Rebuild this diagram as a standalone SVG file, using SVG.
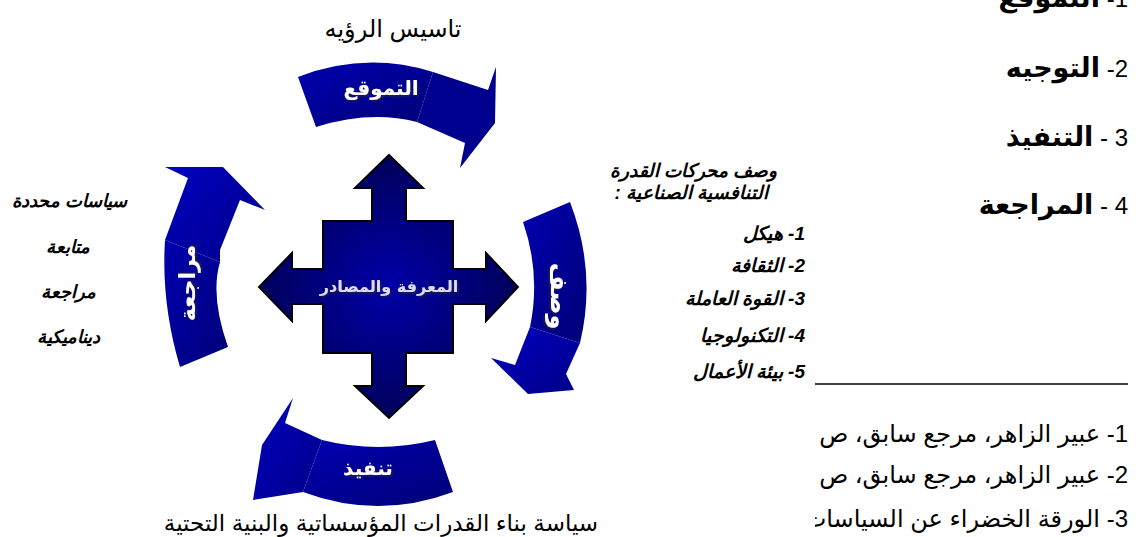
<svg xmlns="http://www.w3.org/2000/svg" width="1136" height="537" viewBox="0 0 1136 537">
<defs>
<linearGradient id="band" x1="0" y1="0" x2="1" y2="1">
<stop offset="0" stop-color="#0000b0"/><stop offset="1" stop-color="#000078"/>
</linearGradient>
<linearGradient id="head" x1="0" y1="0" x2="1" y2="1">
<stop offset="0" stop-color="#0000c0"/><stop offset="1" stop-color="#000088"/>
</linearGradient>
<radialGradient id="cross" cx="0.5" cy="0.5" r="0.6">
<stop offset="0" stop-color="#0000a8"/><stop offset="1" stop-color="#00004a"/>
</radialGradient>
<filter id="sh" x="-20%" y="-30%" width="140%" height="160%">
<feDropShadow dx="1.5" dy="1.5" stdDeviation="0.8" flood-color="#202040" flood-opacity="0.9"/>
</filter>
<clipPath id="fnclip"><rect x="815" y="490" width="321" height="47"/></clipPath>
<style>
.t{font-family:"Liberation Sans","DejaVu Sans",sans-serif;fill:#000}
.lbl{font-family:"DejaVu Sans","Liberation Sans",sans-serif;font-weight:bold;fill:#ffffff;filter:url(#sh)}
.bi{font-weight:bold;font-style:italic;font-size:19px}
.bt{font-weight:bold;font-style:italic;font-size:18.5px}
.bl{font-weight:bold;font-style:italic;font-size:18px}
.big{font-size:27px;font-weight:bold}
.num{font-weight:normal;font-size:24px}
.reg{font-size:24px}
.outline{stroke:#000;stroke-width:2;stroke-linejoin:miter}
</style>
</defs>

<g id="connectors">
<g id="arrow-top">
<path d="M298,77 Q365,51 433,72 L417,122 Q370,110 316,127 Z" fill="url(#band)"/>
<path d="M433,72 L488,90 L496,67 L495,123 L460,168 L465,143 L417,122 Z" fill="#00008e"/>
<text class="lbl" x="381" y="95" font-size="20" text-anchor="middle" direction="rtl">التموقع</text>
</g>
<g id="arrow-right">
<path d="M523,222 L570,202 Q597,272 580,343 L530,327 Q541,274 523,222 Z" fill="url(#band)"/>
<path d="M530,327 L580,343 L566,374 L574,390 L528,394 L491,358 L515,365 Z" fill="url(#head)"/>
<text class="lbl" transform="translate(559,296) rotate(90)" x="0" y="8" font-size="24" text-anchor="middle" direction="rtl">وصف</text>
</g>
<g id="arrow-bottom">
<path d="M435,440 L453,492 Q378,520 303,492 L322,440 Q378,454 435,440 Z" fill="url(#band)"/>
<path d="M322,440 L303,492 L253,500 L262,445 L293,398 L285,423 Z" fill="url(#head)"/>
<text class="lbl" x="368" y="475" font-size="20" text-anchor="middle" direction="rtl">تنفيذ</text>
</g>
<g id="arrow-left">
<path d="M165,240 L188,178 L165,167 L223,167 L265,210 L240,200 L220,250 L220,262 Z" fill="url(#head)"/>
<path d="M165,240 L220,262 Q210,296 228,347 L180,367 Q161,303 165,240 Z" fill="url(#band)"/>
<text class="lbl" transform="translate(187,283) rotate(-90)" x="0" y="8" font-size="22" text-anchor="middle" direction="rtl">مراجعة</text>
</g>
</g>

<g id="center">
<path class="outline" fill="url(#cross)" d="M389,155 L423,188 L406,188 L406,221 L453,221 L453,269 L486,269 L486,253 L518,287 L486,321 L486,304 L453,304 L453,353 L406,353 L406,386 L423,386 L389,418 L355,386 L372,386 L372,353 L323,353 L323,304 L292,304 L292,321 L259,287 L292,253 L292,269 L323,269 L323,221 L372,221 L372,188 L355,188 Z"/>
<text class="lbl" x="389" y="292" font-size="16" text-anchor="middle" direction="rtl" style="fill:#dcdcf4">المعرفة والمصادر</text>
</g>

<g id="label-top"><text class="t" x="393" y="37" font-size="24" text-anchor="middle" direction="rtl">تاسيس الرؤيه</text></g>
<g id="label-bottom"><text class="t" x="381" y="531" font-size="23" text-anchor="middle" direction="rtl">سياسة بناء القدرات المؤسساتية والبنية التحتية</text></g>

<g id="left-list">
<text class="t bl" x="70" y="207" text-anchor="middle" direction="rtl">سياسات محددة</text>
<text class="t bl" x="68" y="253" text-anchor="middle" direction="rtl">متابعة</text>
<text class="t bl" x="68" y="298" text-anchor="middle" direction="rtl">مراجعة</text>
<text class="t bl" x="68" y="343" text-anchor="middle" direction="rtl">ديناميكية</text>
</g>

<g id="drivers">
<text class="t bt" x="777" y="177" direction="rtl" text-anchor="start">وصف محركات القدرة</text>
<text class="t bt" x="768" y="199" direction="rtl" text-anchor="start">التنافسية الصناعية :</text>
<text class="t bi" x="805" y="240" direction="rtl" text-anchor="start">1- هيكل</text>
<text class="t bi" x="805" y="272" direction="rtl" text-anchor="start">2- الثقافة</text>
<text class="t bi" x="805" y="305" direction="rtl" text-anchor="start">3- القوة العاملة</text>
<text class="t bi" x="805" y="342" direction="rtl" text-anchor="start">4- التكنولوجيا</text>
<text class="t bi" x="805" y="378" direction="rtl" text-anchor="start">5- بيئة الأعمال</text>
</g>

<g id="stages">
<text class="t big" x="1128" y="7" direction="rtl" text-anchor="start"><tspan class="num">1- </tspan>التموقع</text>
<text class="t big" x="1128" y="77" direction="rtl" text-anchor="start"><tspan class="num">2- </tspan>التوجيه</text>
<text class="t big" x="1128" y="146" direction="rtl" text-anchor="start"><tspan class="num">3 - </tspan>التنفيذ</text>
<text class="t big" x="1128" y="214" direction="rtl" text-anchor="start"><tspan class="num">4 - </tspan>المراجعة</text>
</g>

<g id="footnotes">
<line x1="815" y1="384" x2="1128" y2="384" stroke="#000" stroke-width="1.5"/>
<text class="t reg" x="1128" y="442" direction="rtl" text-anchor="start">1- عبير الزاهر، مرجع سابق، ص</text>
<text class="t reg" x="1128" y="483" direction="rtl" text-anchor="start">2- عبير الزاهر، مرجع سابق، ص</text>
<g clip-path="url(#fnclip)"><text class="t reg" x="1128" y="527" direction="rtl" text-anchor="start">3- الورقة الخضراء عن السياسات</text></g>
</g>
</svg>
